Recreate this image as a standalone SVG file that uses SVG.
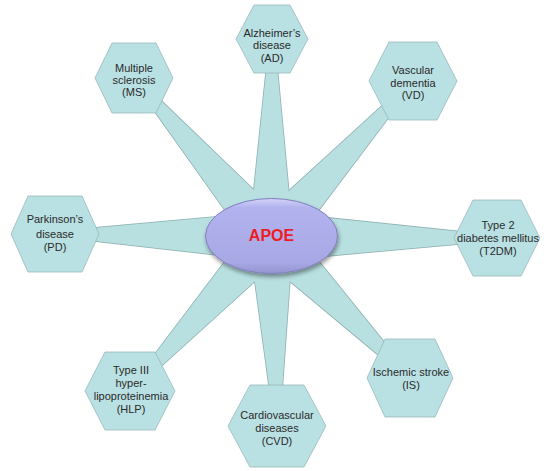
<svg xmlns="http://www.w3.org/2000/svg" width="554" height="471" viewBox="0 0 554 471">
<defs>
<linearGradient id="eg" x1="0" y1="0" x2="0" y2="1">
<stop offset="0" stop-color="#d4d4f8"/>
<stop offset="0.12" stop-color="#b2b2ee"/>
<stop offset="0.85" stop-color="#a8a8e6"/>
<stop offset="1" stop-color="#9494d0"/>
</linearGradient>
<filter id="sh" x="-20%" y="-20%" width="140%" height="150%">
<feGaussianBlur in="SourceAlpha" stdDeviation="2"/>
<feOffset dx="1" dy="3" result="b"/>
<feComponentTransfer><feFuncA type="linear" slope="0.4"/></feComponentTransfer>
<feMerge><feMergeNode/><feMergeNode in="SourceGraphic"/></feMerge>
</filter>
</defs>
<style>
.sp{fill:#b8e0e1;stroke:#8fb0b2;stroke-width:1.6}
.spf{fill:#b8e0e1;stroke:none}
.hx{fill:#b9e1e3;stroke:#9bb8ba;stroke-width:0.8}
.t{font-family:"Liberation Sans",Arial,sans-serif;font-size:11px;fill:#2a2a2a;text-anchor:middle}
.apoe{font-family:"Liberation Sans",Arial,sans-serif;font-size:16px;font-weight:bold;fill:#ee1c24;text-anchor:middle}
</style>
<rect width="554" height="471" fill="#ffffff"/>
<g id="connectors">
<g>
<polygon class="sp" points="274.5,39 269.5,39 249,237 293,237"/>
<polygon class="sp" points="135.9,76.4 132.1,79.6 254.3,251.4 287.7,222.6"/>
<polygon class="sp" points="414.9,82.7 411.1,79.3 254.7,222.2 287.3,251.8"/>
<polygon class="sp" points="55,231.5 55,236.5 271,261 271,212"/>
<polygon class="sp" points="497,240.5 497,235.5 271,212 271,261"/>
<polygon class="sp" points="131.8,392.7 128.2,389.3 254.8,222.1 287.2,251.9"/>
<polygon class="sp" points="279.5,425.9 274.5,426.1 249,237.7 293,236.3"/>
<polygon class="sp" points="411.8,376.2 408.2,379.8 255.3,252.4 286.7,221.6"/>
</g>
<g>
<polygon class="spf" points="274.5,39 269.5,39 249,237 293,237"/>
<polygon class="spf" points="135.9,76.4 132.1,79.6 254.3,251.4 287.7,222.6"/>
<polygon class="spf" points="414.9,82.7 411.1,79.3 254.7,222.2 287.3,251.8"/>
<polygon class="spf" points="55,231.5 55,236.5 271,261 271,212"/>
<polygon class="spf" points="497,240.5 497,235.5 271,212 271,261"/>
<polygon class="spf" points="131.8,392.7 128.2,389.3 254.8,222.1 287.2,251.9"/>
<polygon class="spf" points="279.5,425.9 274.5,426.1 249,237.7 293,236.3"/>
<polygon class="spf" points="411.8,376.2 408.2,379.8 255.3,252.4 286.7,221.6"/>
</g>
</g>
<g id="node-ad">
<polygon class="hx" points="236,39 254,5 290,5 308,39 290,73 254,73"/>
<text class="t" x="272" y="37">Alzheimer’s</text>
<text class="t" x="272" y="49">disease</text>
<text class="t" x="272" y="62">(AD)</text>
</g>
<g id="node-ms">
<polygon class="hx" points="95,78 112,43 156,43 173,78 156,113 112,113"/>
<text class="t" x="134" y="72">Multiple</text>
<text class="t" x="134" y="84">sclerosis</text>
<text class="t" x="134" y="96">(MS)</text>
</g>
<g id="node-vd">
<polygon class="hx" points="369,81 389,42 437,42 457,81 437,120 389,120"/>
<text class="t" x="413" y="74">Vascular</text>
<text class="t" x="413" y="87">dementia</text>
<text class="t" x="413" y="99">(VD)</text>
</g>
<g id="node-pd">
<polygon class="hx" points="11,234 28,196 82,196 99,234 82,272 28,272"/>
<text class="t" x="55" y="223">Parkinson’s</text>
<text class="t" x="55" y="238">disease</text>
<text class="t" x="55" y="251">(PD)</text>
</g>
<g id="node-t2dm">
<polygon class="hx" points="454,238 473,200 521,200 540,238 521,276 473,276"/>
<text class="t" x="498" y="229">Type 2</text>
<text class="t" x="498" y="242">diabetes mellitus</text>
<text class="t" x="498" y="255">(T2DM)</text>
</g>
<g id="node-hlp">
<polygon class="hx" points="85,391 105,352 155,352 175,391 155,430 105,430"/>
<text class="t" x="131" y="374">Type III</text>
<text class="t" x="131" y="387">hyper-</text>
<text class="t" x="131" y="400">lipoproteinemia</text>
<text class="t" x="131" y="413">(HLP)</text>
</g>
<g id="node-cvd">
<polygon class="hx" points="228,426 250,385 304,385 326,426 304,467 250,467"/>
<text class="t" x="277" y="419">Cardiovascular</text>
<text class="t" x="277" y="432">diseases</text>
<text class="t" x="277" y="445">(CVD)</text>
</g>
<g id="node-is">
<polygon class="hx" points="367,378 385,339 435,339 453,378 435,417 385,417"/>
<text class="t" x="411" y="376">Ischemic stroke</text>
<text class="t" x="411" y="389">(IS)</text>
</g>
<g id="node-apoe">
<ellipse cx="271.5" cy="236" rx="66" ry="37.5" fill="url(#eg)" stroke="#8080bc" stroke-width="1" filter="url(#sh)"/>
<text class="apoe" x="271.5" y="241">APOE</text>
</g>
</svg>
